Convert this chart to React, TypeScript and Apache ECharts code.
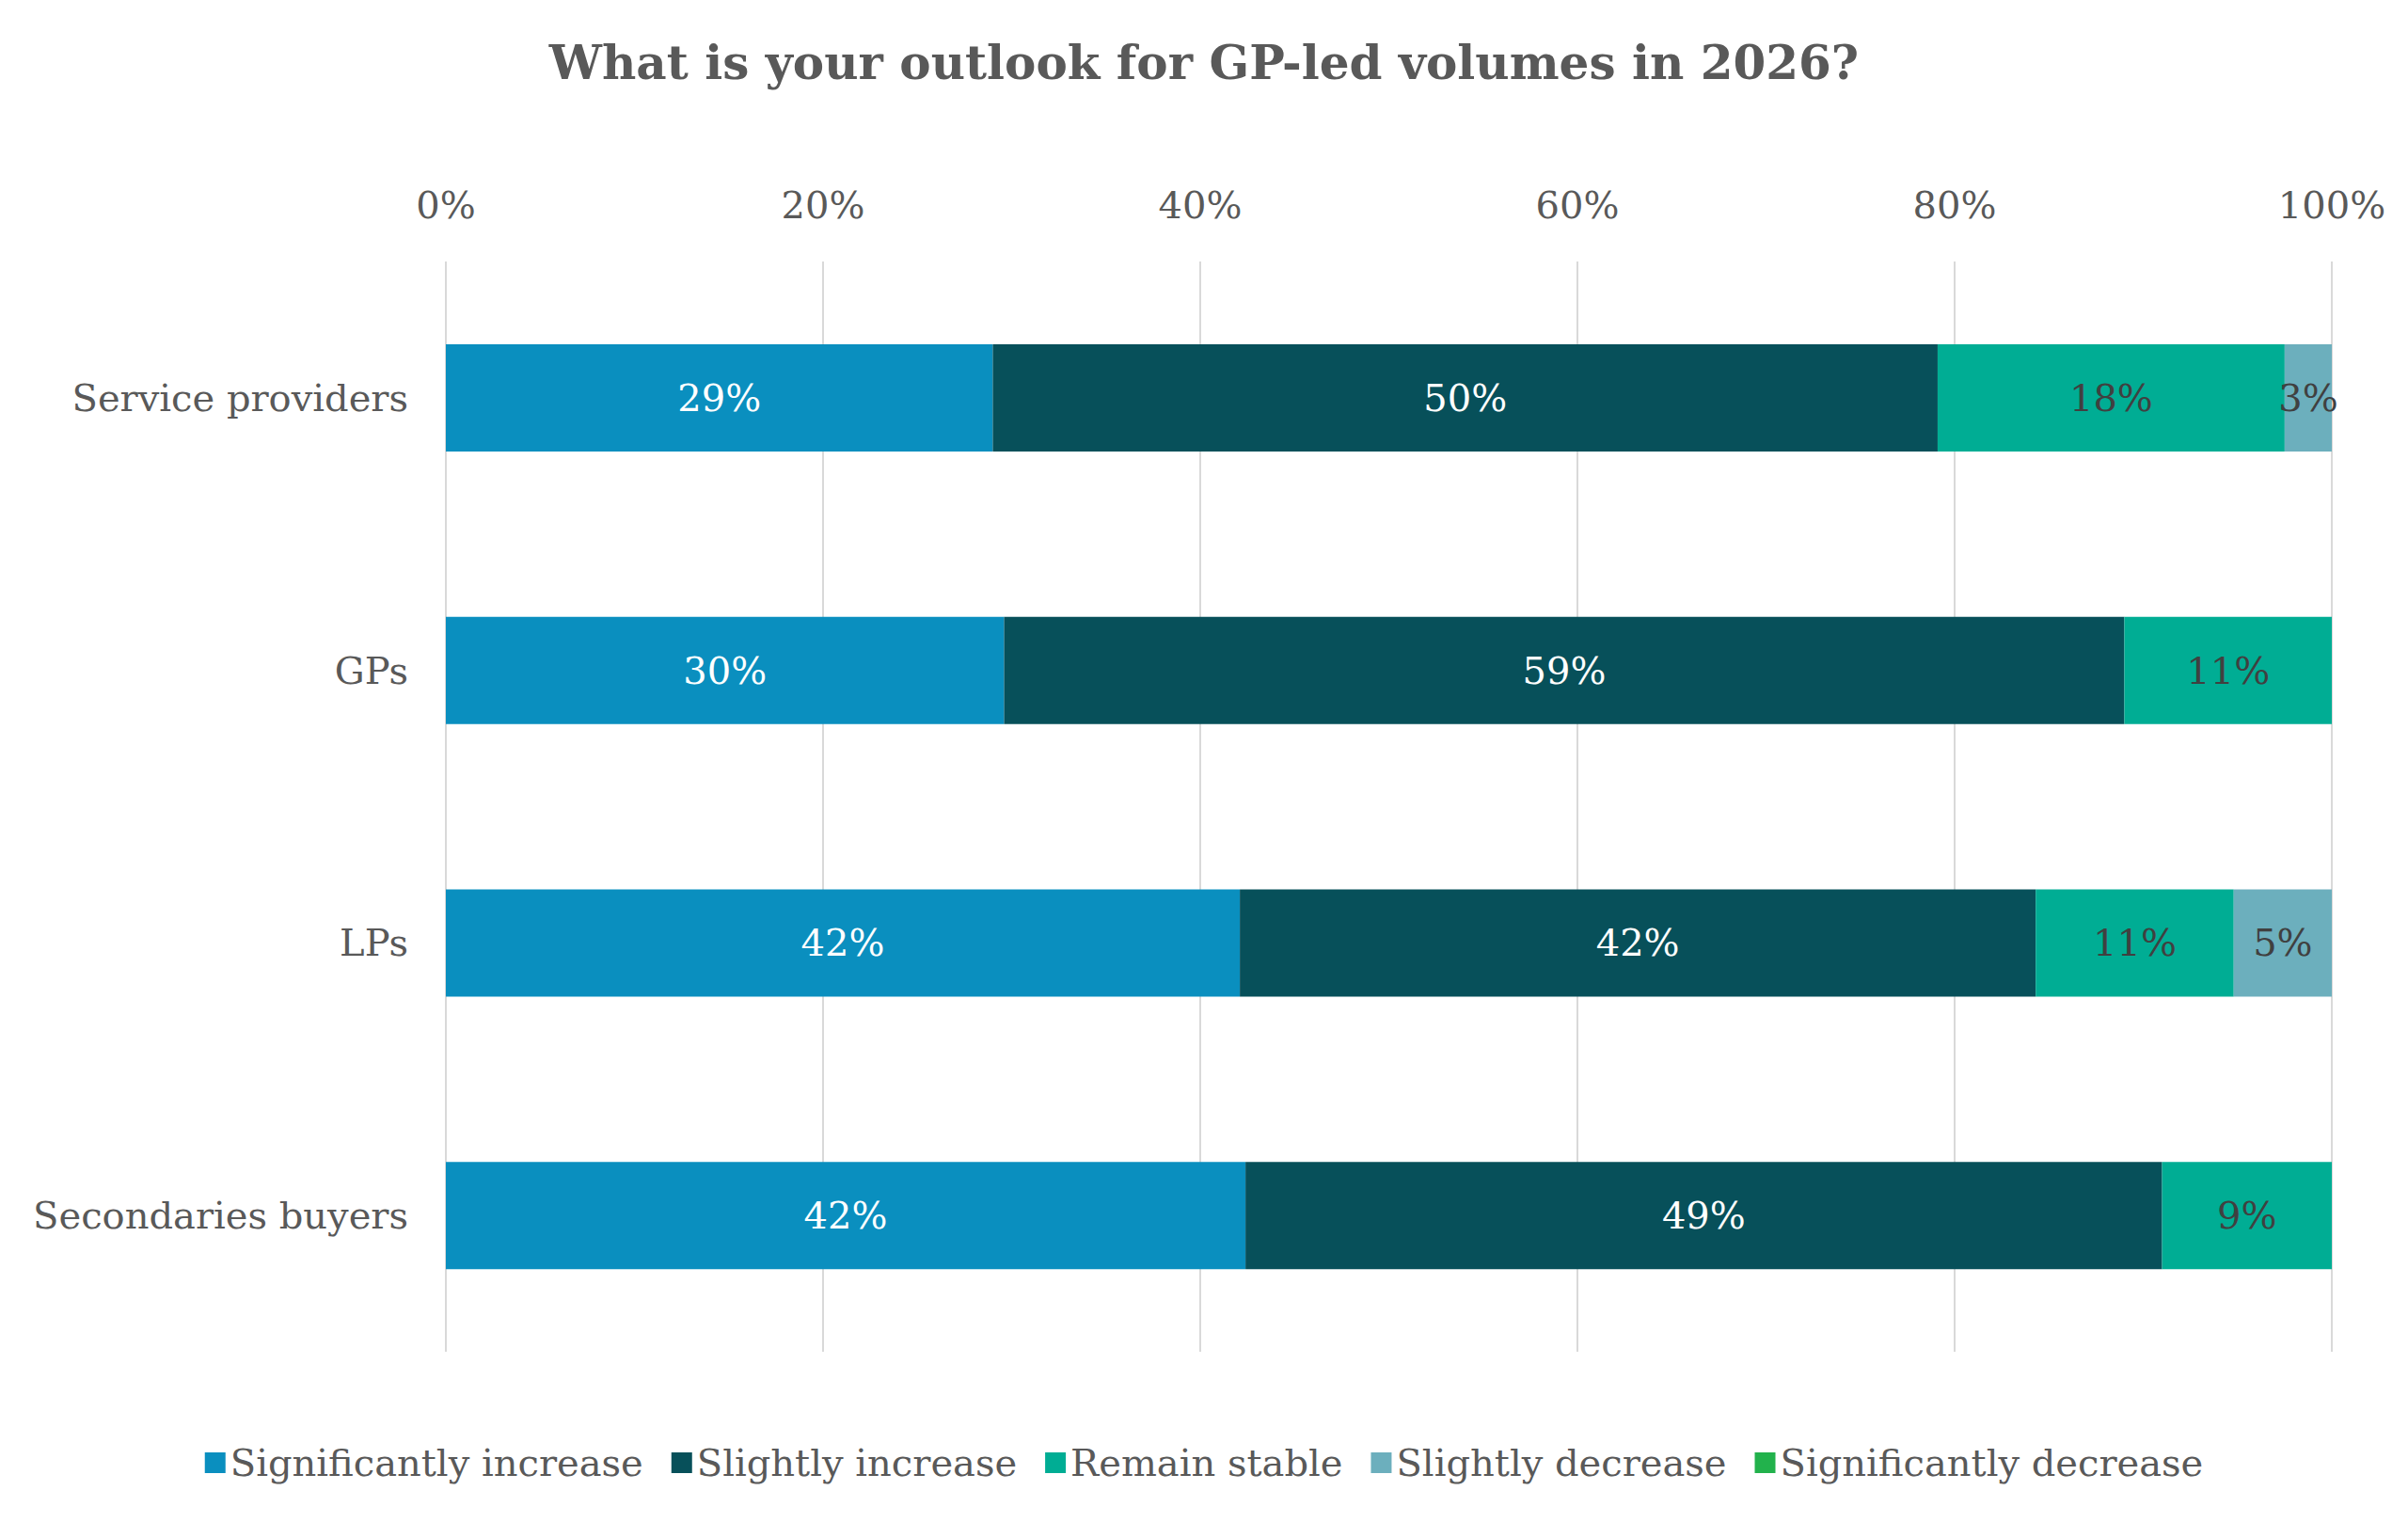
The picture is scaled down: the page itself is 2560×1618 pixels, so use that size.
import React, { useEffect, useRef } from "react";
import * as echarts from "echarts";

const categories = ["Service providers", "GPs", "LPs", "Secondaries buyers"];
const seriesNames = [
  "Significantly increase",
  "Slightly increase",
  "Remain stable",
  "Slightly decrease",
  "Significantly decrease",
];
const sigIncrease = [29.0, 29.6, 42.1, 42.4];
const slightIncrease = [50.1, 59.4, 42.2, 48.6];
const remainStable = [18.4, 11.0, 10.5, 9.0];
const slightDecrease = [2.5, 0, 5.2, 0];
const sigDecrease = [0, 0, 0, 0];
const xTicks = [0, 20, 40, 60, 80, 100];

const colors = ["#0a8fbf", "#07505a", "#00ad94", "#6cafbd", "#22b24c"];
const labelColors = ["#ffffff", "#ffffff", "#404040", "#404040", "#404040"];
const FONT = "DejaVu Serif";

const App: React.FC = () => {
  const chartRef = useRef<HTMLDivElement>(null);

  useEffect(() => {
    document.body.style.margin = "0";
    if (!chartRef.current) return;
    const chart = echarts.init(chartRef.current, undefined, { renderer: "svg" });
    const values = [sigIncrease, slightIncrease, remainStable, slightDecrease, sigDecrease];

    chart.setOption({
      animation: false,
      backgroundColor: "#ffffff",
      textStyle: { fontFamily: FONT },
      title: {
        text: "What is your outlook for GP-led volumes in 2026?",
        left: "center",
        top: 36,
        textStyle: { fontFamily: FONT, fontSize: 50, fontWeight: "bold", color: "#595959" },
      },
      legend: {
        bottom: 38,
        left: "center",
        itemWidth: 22,
        itemHeight: 22,
        itemGap: 30,
        icon: "rect",
        textStyle: { fontFamily: FONT, fontSize: 40, color: "#595959" },
        data: seriesNames,
      },
      grid: { left: 474, right: 81, top: 278, bottom: 181, containLabel: false },
      xAxis: {
        type: "value",
        position: "top",
        min: 0,
        max: 100,
        interval: 20,
        axisLine: { show: false },
        axisTick: { show: false },
        axisLabel: {
          margin: 40,
          fontFamily: FONT,
          fontSize: 40,
          color: "#595959",
          formatter: (v: number) => (xTicks.includes(v) ? `${v}%` : ""),
        },
        splitLine: { lineStyle: { color: "#d9d9d9", width: 2 } },
      },
      yAxis: {
        type: "category",
        inverse: true,
        data: categories,
        axisLine: { show: false },
        axisTick: { show: false },
        axisLabel: { margin: 40, fontFamily: FONT, fontSize: 40, color: "#595959" },
      },
      series: seriesNames.map((name, i) => ({
        name,
        type: "bar",
        stack: "total",
        barWidth: 114,
        itemStyle: { color: colors[i] },
        data: values[i],
        label: {
          show: true,
          position: "inside",
          fontFamily: FONT,
          fontSize: 40,
          color: labelColors[i],
          formatter: (p: any) => (p.value > 0 ? `${Math.round(p.value)}%` : ""),
        },
      })),
    });

    return () => chart.dispose();
  }, []);

  return <div ref={chartRef} style={{ width: 2560, height: 1618 }} />;
};

export default App;
